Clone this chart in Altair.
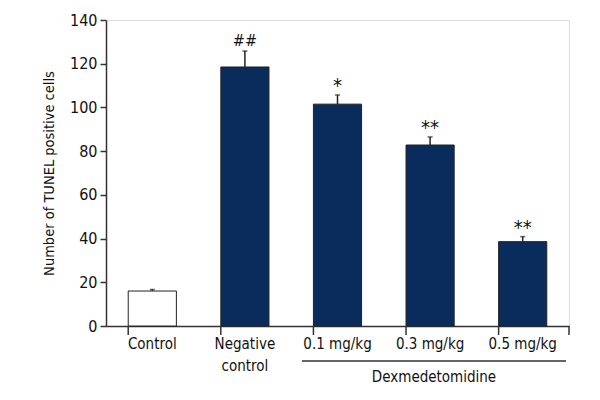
import altair as alt
import pandas as pd

categories = ["Control", "Negative control", "0.1 mg/kg", "0.3 mg/kg", "0.5 mg/kg"]
values = [16, 118.5, 101.5, 82.8, 38.6]
errors = [0.7, 7.3, 4.2, 3.7, 2.3]
marks = ["", "##", "*", "**", "**"]
groups = ["control", "treated", "treated", "treated", "treated"]

df = pd.DataFrame({
    "cat": categories,
    "val": values,
    "top": [v + e for v, e in zip(values, errors)],
    "sig": marks,
    "grp": groups,
})

FONT = "DejaVu Sans Condensed, Liberation Sans Narrow, Roboto, sans-serif"
W, H = 463, 306

xenc = alt.X("cat:N", sort=categories, title=None,
             scale=alt.Scale(paddingInner=0.48, paddingOuter=0.24),
             axis=alt.Axis(ticks=False, labelAngle=0, labelFontSize=15, labelFont=FONT,
                           labelColor="#111", labelPadding=10, domainColor="#333", domainWidth=1.5,
                           labelLineHeight=22,
                           labelExpr="datum.label == 'Negative control' ? ['Negative', 'control'] : datum.label"))
yscale = alt.Scale(domain=[0, 140])

bars = alt.Chart(df).mark_bar(stroke="#222", strokeWidth=1).encode(
    x=xenc,
    y=alt.Y("val:Q", scale=yscale, title="Number of TUNEL positive cells",
            axis=alt.Axis(values=list(range(0, 141, 20)), grid=False, tickSize=6,
                          tickColor="#333", tickWidth=1.5, domainColor="#333", domainWidth=1.5,
                          labelFontSize=16, labelFont=FONT, labelColor="#111", labelPadding=3,
                          titleFont=FONT, titleFontSize=14.5, titleFontWeight="normal",
                          titleColor="#111", titlePadding=13)),
    fill=alt.Color("grp:N", scale=alt.Scale(domain=["control", "treated"],
                                           range=["#ffffff", "#0a2c5c"]), legend=None),
)

err = alt.Chart(df).mark_rule(color="#222", strokeWidth=1.5).encode(
    x=alt.X("cat:N", sort=categories), y=alt.Y("val:Q", scale=yscale), y2="top:Q")
caps = alt.Chart(df).mark_tick(color="#222", size=5, thickness=1.5, orient="horizontal").encode(
    x=alt.X("cat:N", sort=categories), y=alt.Y("top:Q", scale=yscale))
hash_sig = alt.Chart(df).transform_filter("datum.sig == '##'").mark_text(
    font=FONT, fontSize=16, dy=-5, baseline="alphabetic", color="#111").encode(
    x=alt.X("cat:N", sort=categories), y=alt.Y("top:Q", scale=yscale), text="sig:N")
star_sig = alt.Chart(df).transform_filter("indexof(datum.sig, '*') >= 0").mark_text(
    font=FONT, fontSize=20, dy=-3, baseline="alphabetic", color="#111").encode(
    x=alt.X("cat:N", sort=categories), y=alt.Y("top:Q", scale=yscale), text="sig:N")

xticks = alt.Chart(df).mark_rule(color="#333", strokeWidth=1.5).encode(
    x=alt.X("cat:N", sort=categories, bandPosition=0), y=alt.value(H), y2=alt.value(H + 9))
lastick = alt.Chart(df.iloc[[0]]).mark_rule(color="#333", strokeWidth=1.5).encode(
    x=alt.value(W), y=alt.value(H), y2=alt.value(H + 9))

group_df = pd.DataFrame({"label": ["Dexmedetomidine"]})
gline = alt.Chart(group_df).mark_rule(color="#333", strokeWidth=1.5).encode(
    x=alt.value(196), x2=alt.value(460), y=alt.value(H + 35))
gtext = alt.Chart(group_df).mark_text(font=FONT, fontSize=15, color="#111", baseline="middle").encode(
    x=alt.value(328), y=alt.value(H + 51), text="label:N")

chart = alt.layer(bars, err, caps, hash_sig, star_sig, xticks, lastick, gline, gtext).properties(
    width=W, height=H,
    autosize=alt.AutoSizeParams(type="none"),
    padding={"left": 98, "top": 12, "right": 15, "bottom": 66},
).configure_view(stroke=None).configure(background="white")

chart.save("out.html", embed_options={"renderer": "svg", "actions": False})
